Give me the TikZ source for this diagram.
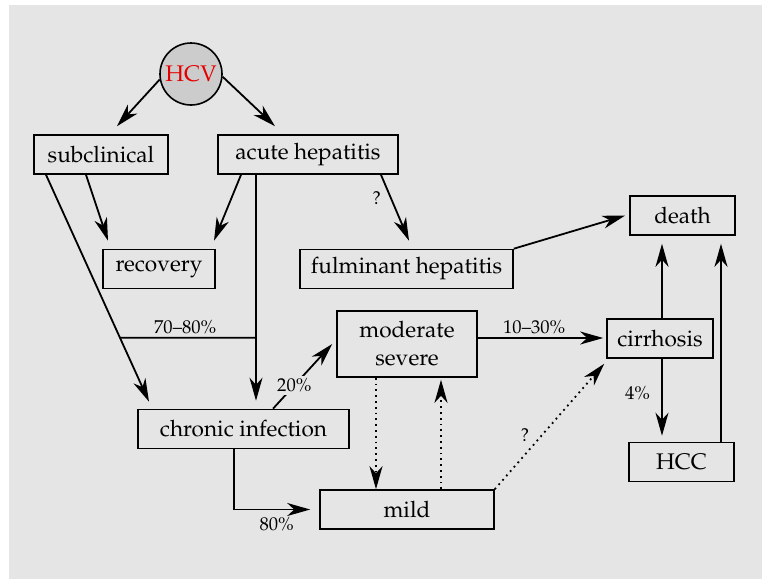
\documentclass[tikz,border=0pt]{standalone}
\usepackage[T1]{fontenc}
\usepackage{mathpazo}
\usepackage{tikz}
\usetikzlibrary{arrows.meta, positioning}

\begin{document}
\begin{tikzpicture}[
  x=0.5pt, y=-0.5pt,
  box/.style={rectangle, draw, line width=0.8pt, minimum height=19.5pt, inner sep=2pt, align=center, font=\fontsize{11.3}{14}\selectfont},
  virus/.style={circle, draw, line width=0.8pt, fill=black!20, minimum size=31pt, inner sep=0pt, text=red!90!black, font=\fontsize{11.3}{14}\selectfont},
  arrow/.style={-{Stealth[length=11.5pt, width=6.5pt, inset=3.5pt]}, line width=0.9pt},
  maybe/.style={arrow, dotted},
  lbl/.style={font=\fontsize{9.3}{11}\selectfont, inner sep=1.5pt}
]

% background
\useasboundingbox (0,0) rectangle (762,579);
\fill[black!10] (9,5) rectangle (762,579);

% acute phase
\node[virus] (hcv) at (191,74) {HCV};
\node[box, minimum width=67pt] (subclinical) at (101,154.5) {subclinical};
\node[box, minimum width=90pt] (acute) at (308,154.5) {acute hepatitis};
\node[box, minimum width=56pt] (recovery) at (159,269) {recovery};
\node[box, minimum width=106.5pt] (fulminant) at (406.5,269) {fulminant hepatitis};
\node[box, minimum width=52.5pt] (death) at (682.5,215.5) {death};

\draw[arrow] (hcv.190) -- ([xshift=8pt,yshift=4pt]subclinical.north);
\draw[arrow] (hcv.-5) -- ([xshift=-16.5pt,yshift=4pt]acute.north);
\draw[arrow] ([xshift=-7.5pt]subclinical.south) -- ([xshift=-25.5pt,yshift=4pt]recovery.north);
\draw[arrow] ([xshift=-33.5pt]acute.south) -- ([xshift=27.5pt,yshift=4pt]recovery.north);
\draw[arrow] ([xshift=36.5pt]acute.south) -- node[lbl, left, pos=0.35, xshift=-3pt] {?} ([xshift=1.25pt,yshift=4pt]fulminant.north);
\draw[arrow] (fulminant.north east) -- ([xshift=-2pt]death.west);

% chronic phase
\node[box, minimum width=105.5pt] (chronic) at (243.5,429) {chronic infection};
\node[box, minimum width=70pt, minimum height=33pt] (moderate) at (407,344) {moderate\\severe};
\node[box, minimum width=87pt] (mild) at (407,509.5) {mild};
\node[box, minimum width=53pt] (cirrhosis) at (660,338.5) {cirrhosis};
\node[box, minimum width=52.5pt] (hcc) at (681.5,462) {HCC};

\draw[arrow] ([xshift=-27.5pt]subclinical.south) -- coordinate[pos=0.718] (sub70) ([xshift=-47.25pt,yshift=3.5pt]chronic.north);
\draw[arrow] ([xshift=-26pt]acute.south) -- coordinate[pos=0.721] (acute70) ([xshift=6.25pt,yshift=4pt]chronic.north);
\draw[line width=0.9pt] (sub70) -- node[lbl, above, pos=0.48] {70--80\%} (acute70);

\draw[arrow] ([xshift=14.75pt]chronic.north) -- node[lbl, fill=black!10, pos=0.36] {20\%} ([xshift=-2pt]moderate.west);
\draw[arrow] ([xshift=-4.75pt]chronic.south) |- node[lbl, below, pos=0.78, yshift=-2pt] {80\%} ([xshift=-4.5pt]mild.west);

\draw[maybe] ([xshift=-15.5pt]moderate.south) -- ([xshift=-15.5pt]mild.north);
\draw[maybe] ([xshift=17pt]mild.north) -- ([xshift=17pt,yshift=-1pt]moderate.south);
\draw[maybe] (mild.north east) -- node[lbl, above left, pos=0.35] {?} ([xshift=-1pt,yshift=-2.5pt]cirrhosis.south west);

\draw[arrow] ([yshift=3pt]moderate.east) -- node[lbl, above, pos=0.45] {10--30\%} ([xshift=-1.5pt,yshift=0.25pt]cirrhosis.west);

% late outcomes
\draw[arrow] ([xshift=1pt]cirrhosis.north) -- ([xshift=-10.25pt,yshift=-4pt]death.south);
\draw[arrow] ([xshift=1pt]cirrhosis.south) -- node[lbl, left, pos=0.45, xshift=-4pt] {4\%} ([xshift=-9.75pt,yshift=3pt]hcc.north);
\draw[arrow] ([xshift=19.75pt]hcc.north) -- ([xshift=19.25pt,yshift=-4pt]death.south);

\end{tikzpicture}
\end{document}
